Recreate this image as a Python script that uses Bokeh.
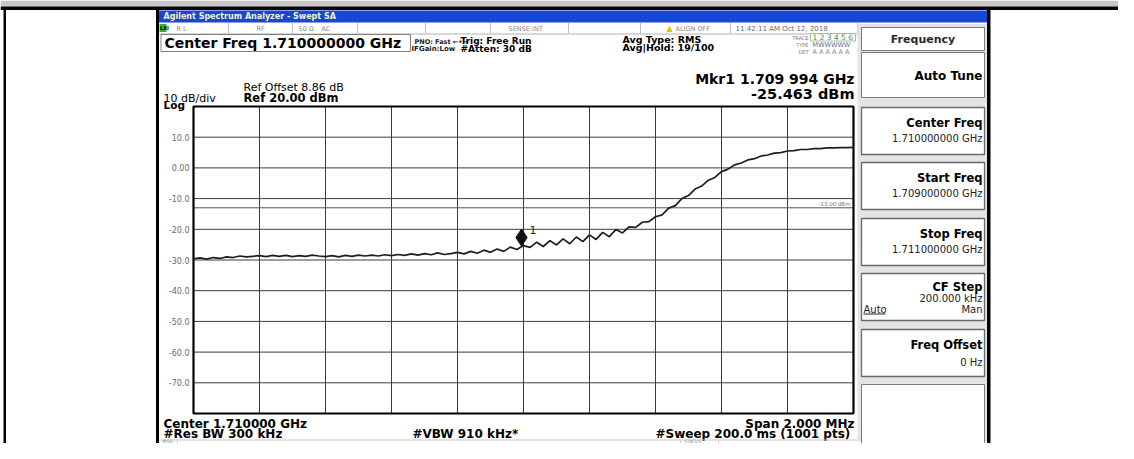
import numpy as np
from bokeh.plotting import figure
from bokeh.models import Range1d
from bokeh.core.properties import value
from bokeh.embed import file_html
from bokeh.resources import INLINE

# ---------------- data ----------------
START_MHZ = 1709.0
STOP_MHZ = 1711.0
REF_DBM = 20.0
BOTTOM_DBM = -80.0
MKR_MHZ = 1709.994
MKR_DBM = -25.463
DISPLAY_LINE_DBM = -13.0

# trace (dBm), 101 readings across the 2 MHz span
TRACE_DBM = [
    -29.6, -29.3, -29.7, -29.2, -29.5, -29.0, -29.2, -28.7, -29.0, -28.8,
    -28.6, -28.9, -28.5, -28.8, -28.5, -28.9, -28.6, -28.8, -28.4, -28.7,
    -28.9, -28.6, -29.0, -28.5, -28.8, -28.4, -28.7, -28.4, -28.7, -28.3,
    -28.6, -28.2, -28.5, -28.0, -28.4, -27.9, -28.3, -27.7, -28.2, -27.9,
    -27.5, -28.0, -27.2, -27.8, -26.8, -27.5, -26.4, -27.2, -25.8, -26.6,
    -25.3, -25.9, -24.2, -25.6, -23.7, -25.1, -23.1, -24.7, -22.5, -24.0,
    -21.8, -23.3, -21.0, -22.4, -20.1, -21.2, -19.2, -19.4, -17.7, -17.5,
    -15.9, -15.3, -13.1, -12.3, -10.0, -9.0, -6.9, -5.9, -4.0, -3.1,
    -1.2, -0.4, 1.0, 1.6, 2.6, 3.0, 3.9, 4.2, 4.8, 5.0,
    5.5, 5.6, 6.0, 6.0, 6.3, 6.3, 6.5, 6.5, 6.6, 6.6,
    6.7,
]

X_GRID_MHZ = [1709.2, 1709.4, 1709.6, 1709.8, 1710.0, 1710.2, 1710.4, 1710.6, 1710.8]
Y_TICKS = [10, 0, -10, -20, -30, -40, -50, -60, -70]
Y_TICK_LABELS = ["10.0", "0.00", "-10.0", "-20.0", "-30.0", "-40.0", "-50.0", "-60.0", "-70.0"]

SOFTKEY_TITLES = ["Center Freq", "Start Freq", "Stop Freq", "CF Step", "Freq Offset"]
SOFTKEY_VALUES = ["1.710000000 GHz", "1.709000000 GHz", "1.711000000 GHz", "200.000 kHz", "0 Hz"]

# ---------------- layout (picture pixels) ----------------
W, H = 1118, 443
X0, X1, Y0, Y1 = 0, W, 0, H
FL, FR, FT, FB = 193, 853, 106, 413           # graticule frame
PX_PER_MHZ = (FR - FL) / (STOP_MHZ - START_MHZ)
PX_PER_DB = (FB - FT) / (REF_DBM - BOTTOM_DBM)

FONT = value("DejaVu Sans")

p = figure(width=W, height=H, x_range=Range1d(X0, X1), y_range=Range1d(Y1, Y0),
           min_border=0, toolbar_location=None, output_backend="svg",
           x_axis_type=None, y_axis_type=None, outline_line_color=None,
           background_fill_color="white", border_fill_color="white")
p.grid.visible = False

p.extra_x_ranges = {"freq": Range1d(START_MHZ - (FL - X0) / PX_PER_MHZ,
                                    STOP_MHZ + (X1 - FR) / PX_PER_MHZ)}
p.extra_y_ranges = {"dbm": Range1d(BOTTOM_DBM - (Y1 - FB) / PX_PER_DB,
                                   REF_DBM + (FT - Y0) / PX_PER_DB)}
D = dict(x_range_name="freq", y_range_name="dbm")


def box(l, r, t, b, fill="white", line=None, lw=1):
    p.quad(left=[l], right=[r], top=[t], bottom=[b], fill_color=fill,
           line_color=line, line_width=lw)


def hline(x0, x1, y, color="#999999", lw=1):
    p.segment(x0=[x0], y0=[y], x1=[x1], y1=[y], line_color=color, line_width=lw)


def vline(x, y0, y1, color="#999999", lw=1):
    p.segment(x0=[x], y0=[y0], x1=[x], y1=[y1], line_color=color, line_width=lw)


def lbl(x, y, txt, size, bold=False, align="left", color="#000000", **kw):
    p.text(x=[x], y=[y], text=[txt], text_font=FONT, text_font_size=f"{size}px",
           text_font_style="bold" if bold else "normal", text_align=align,
           text_baseline="middle", text_color=color, **kw)


# ---------- outer page frame ----------
box(X0, X1, 0, 6, fill="#c8c8c8")
box(X0, X1, 6, 9.5, fill="black")
box(3, 5.5, 9, Y1, fill="black")
box(155.5, 158.5, 9, Y1, fill="black")
box(986.5, 990, 9, Y1, fill="black")

# ---------- title bar ----------
box(158.5, 986.5, 10, 22, fill="#1846d6")
lbl(163, 16.3, "Agilent Spectrum Analyzer - Swept SA", 8, bold=True, color="#f6f3c6")

# ---------- status row ----------
hline(158.5, 857, 33.5, "#b0b0b0")
box(159, 166, 23.5, 31.5, fill="#2eb82e")
lbl(159.5, 27.5, "LXI", 5, bold=True, color="#000000")
for sx in [228, 292, 357, 425, 490, 568, 640, 730, 857]:
    vline(sx, 22.5, 33, "#c0c0c0")
lbl(176, 28, "R L", 6.5, color="#8a8a8a")
lbl(256, 28, "RF", 6.5, color="#8a8a8a")
lbl(298, 28, "50 \u03a9", 6.5, color="#8a8a8a")
lbl(321, 28, "AC", 6.5, color="#8a8a8a")
lbl(508, 28, "SENSE:INT", 6.5, color="#8a8a8a")
lbl(666, 28, "\u25b2", 8, color="#e0c000")
lbl(675, 28, "ALIGN OFF", 6.5, color="#8a8a8a")
lbl(735, 28, "11:42:11 AM Oct 12, 2018", 7, color="#6a6a6a")

# ---------- header ----------
box(160.5, 410, 34, 51, fill="white", line="#808080")
lbl(164, 42.5, "Center Freq 1.710000000 GHz", 14, bold=True)
lbl(414, 41, "PNO: Fast \u2190\u2022\u2192", 6.5, bold=True, color="#222222")
lbl(411, 48.5, "IFGain:Low", 7, bold=True, color="#222222")
lbl(460, 40, "Trig: Free Run", 9, bold=True)
lbl(460, 48.5, "#Atten: 30 dB", 9, bold=True)
lbl(622, 38.5, "Avg Type: RMS", 9.5, bold=True)
lbl(622, 46.5, "Avg|Hold: 19/100", 9.5, bold=True)
lbl(808, 37, "TRACE", 5, align="right", color="#777777")
lbl(808, 44, "TYPE", 5, align="right", color="#777777")
lbl(808, 51, "DET", 5, align="right", color="#777777")
box(810, 855, 33, 40.5, fill="white", line="#9fc49f")
lbl(812, 37, "1 2 3 4 5 6", 7.5, color="#5a8a5a")
lbl(812, 44, "MWWWWW", 6.5, color="#6a6a9a")
lbl(812, 51, "A A A A A A", 6.5, color="#8a8a8a")
lbl(854, 78, "Mkr1 1.709 994 GHz", 14, bold=True, align="right")
lbl(854, 93.5, "-25.463 dBm", 14.5, bold=True, align="right")
lbl(243, 86.5, "Ref Offset 8.86 dB", 11)
lbl(243, 97, "Ref 20.00 dBm", 11.5, bold=True)
lbl(163, 97.5, "10 dB/div", 11)
lbl(163, 104, "Log", 10.5, bold=True)

# ---------- graticule ----------
p.segment(x0=X_GRID_MHZ, y0=[BOTTOM_DBM] * len(X_GRID_MHZ), x1=X_GRID_MHZ,
          y1=[REF_DBM] * len(X_GRID_MHZ), line_color="#3c3c3c", line_width=1, **D)
p.segment(x0=[START_MHZ] * len(Y_TICKS), y0=Y_TICKS, x1=[STOP_MHZ] * len(Y_TICKS),
          y1=Y_TICKS, line_color="#3c3c3c", line_width=1, **D)
p.segment(x0=[START_MHZ], y0=[DISPLAY_LINE_DBM], x1=[STOP_MHZ], y1=[DISPLAY_LINE_DBM],
          line_color="#555555", line_width=1, **D)
p.text(x=[STOP_MHZ], y=[DISPLAY_LINE_DBM], text=["-13.00 dBm"], text_font=FONT,
       text_font_size="5.5px", text_color="#777777", text_align="right",
       text_baseline="bottom", x_offset=-3, y_offset=-1, **D)
p.quad(left=[START_MHZ], right=[STOP_MHZ], top=[REF_DBM], bottom=[BOTTOM_DBM],
       fill_color=None, line_color="black", line_width=2.2, **D)
p.text(x=[FL - 4] * len(Y_TICKS), y=Y_TICKS, text=Y_TICK_LABELS, text_font=FONT,
       text_font_size="8px", text_color="#6a6a6a", text_align="right",
       text_baseline="middle", y_range_name="dbm")

# ---------- trace ----------
freqs = np.linspace(START_MHZ, STOP_MHZ, len(TRACE_DBM))
p.line(freqs, TRACE_DBM, line_color="#1e1e1e", line_width=1.7, **D)

# ---------- marker ----------
MKR_LIFT_PX = 8.5
p.scatter(x=[MKR_MHZ], y=[MKR_DBM + MKR_LIFT_PX / PX_PER_DB], marker="diamond", size=17,
          fill_color="#101010", line_color="#101010", **D)
p.text(x=[MKR_MHZ], y=[MKR_DBM], text=["1"], text_font=FONT, text_font_size="11px",
       text_color="#222222", text_align="left", text_baseline="middle",
       x_offset=8, y_offset=-16, **D)

# ---------- footer ----------
lbl(163, 423, "Center 1.710000 GHz", 12, bold=True)
lbl(163, 433, "#Res BW 300 kHz", 12, bold=True)
lbl(412, 433, "#VBW 910 kHz*", 12, bold=True)
lbl(854, 423, "Span 2.000 MHz", 12, bold=True, align="right")
lbl(854, 433, "#Sweep  200.0 ms (1001 pts)", 12, bold=True, align="right")
hline(158.5, 986.5, 439.5, "#c8c8c8", 1.2)
vline(177, 440, Y1, "#c8c8c8")
vline(680, 440, Y1, "#c8c8c8")
vline(718, 440, Y1, "#c8c8c8")
lbl(162, 441, "MSG", 4.5, color="#888888")
lbl(684, 441, "STATUS", 4.5, color="#888888")

# ---------- softkey panel ----------
box(857, 986.5, 23.5, 439, fill="#e4e4e4")
box(861, 984, 27, 50, fill="white", line="#7a7a7a")
lbl(922.5, 38.5, "Frequency", 11, bold=True, align="center", color="#2a2a2a")
box(861, 984, 52, 97, fill="white", line="#7a7a7a")
lbl(982, 75, "Auto Tune", 12, bold=True, align="right")
KEY_TOPS = [107, 162, 218, 273, 329]
for top, title, val in zip(KEY_TOPS, SOFTKEY_TITLES, SOFTKEY_VALUES):
    box(861, 984, top, top + 47, fill="white", line="#6a6a6a", lw=1.3)
    if title == "CF Step":
        lbl(982, top + 13, title, 11.5, bold=True, align="right")
        lbl(982, top + 24.5, val, 10, align="right", color="#222222")
        lbl(982, top + 35.5, "Man", 10, align="right", color="#222222")
        lbl(863, top + 35.5, "Auto", 10, color="#222222")
        hline(863, 885, top + 40.5, "#222222", 1)
    elif title == "Freq Offset":
        lbl(982, top + 15.5, title, 11.5, bold=True, align="right")
        lbl(982, top + 33, val, 10, align="right", color="#222222")
    else:
        lbl(982, top + 15.5, title, 11.5, bold=True, align="right")
        lbl(982, top + 30.5, val, 10, align="right", color="#222222")
box(861, 984, 384, 443, fill="white", line="#7a7a7a")

open("out.html", "w").write(file_html(p, INLINE))
